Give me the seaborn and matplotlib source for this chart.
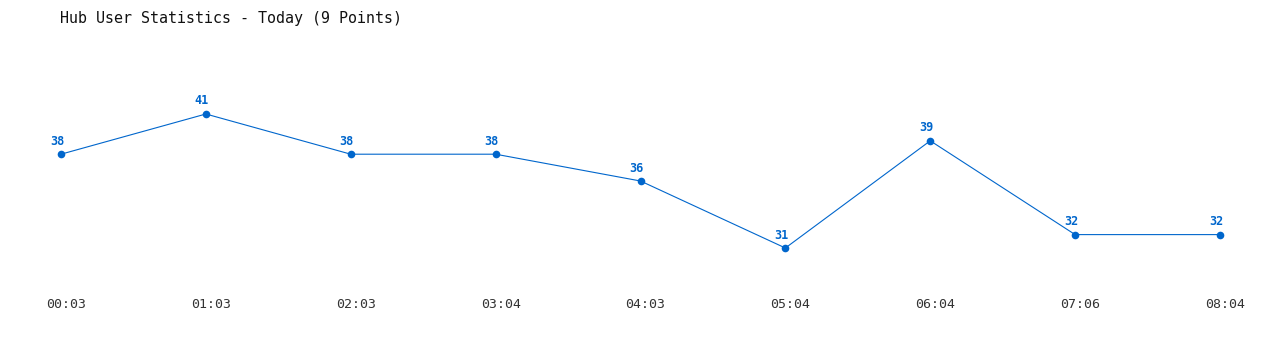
import matplotlib
matplotlib.use("Agg")
import matplotlib.pyplot as plt
from matplotlib.transforms import ScaledTranslation
import seaborn as sns
import pandas as pd

times = ["00:03", "01:03", "02:03", "03:04", "04:03", "05:04", "06:04", "07:06", "08:04"]
users = [38, 41, 38, 38, 36, 31, 39, 32, 32]
title = "Hub User Statistics - Today (9 Points)"

sns.set_style("white")
plt.rcParams["font.family"] = ["DejaVu Sans Mono", "DejaVu Sans"]

blue = "#0066CC"
df = pd.DataFrame({"idx": range(len(times)), "users": users})

fig = plt.figure(figsize=(12.8, 3.5), dpi=100)
ax = fig.add_axes([0, 60 / 350, 1, 290 / 350])
sns.lineplot(data=df, x="idx", y="users", ax=ax, color=blue, linewidth=0.8,
             marker="o", markersize=5.5, markeredgewidth=0, markerfacecolor=blue)

ax.set_xlim(-61 / 144.875, 8 + 60 / 144.875)
ax.set_ylim(27.866, 49.507)
for s in ax.spines.values():
    s.set_visible(False)
ax.set_xlabel("")
ax.set_ylabel("")
ax.set_yticks([])
ax.set_xticks(range(len(times)))
ax.set_xticklabels(times, fontsize=9.5, color="#333333")
ax.tick_params(axis="x", length=0, pad=6)
for lab in ax.get_xticklabels():
    lab.set_transform(lab.get_transform() + ScaledTranslation(5 / 100, 0, fig.dpi_scale_trans))

for i, v in enumerate(users):
    ax.annotate(str(v), (i, v), xytext=(-4 * 0.72, 13 * 0.72), textcoords="offset points",
                ha="center", va="center", fontsize=8.5, fontweight="bold", color=blue)

fig.text(60 / 1280, 1 - 18 / 350, title, fontsize=10.8, color="#111111",
         ha="left", va="center")

fig.savefig("out.png", dpi=100)
